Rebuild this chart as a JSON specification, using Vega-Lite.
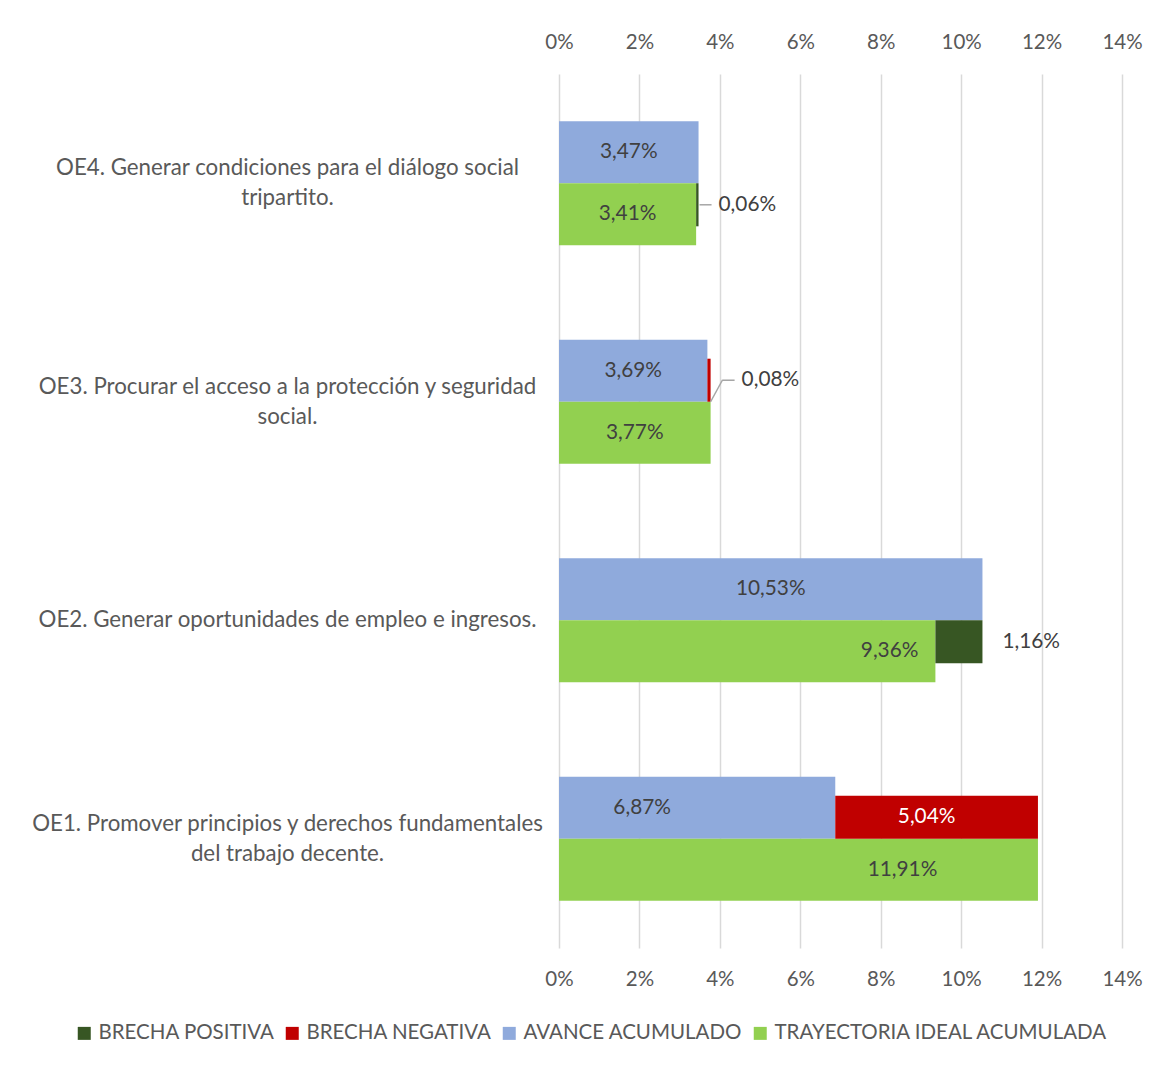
{
  "$schema": "https://vega.github.io/schema/vega-lite/v6.json",
  "width": 563,
  "height": 874,
  "autosize": {"type": "none"},
  "padding": {"left": 559, "top": 74, "right": 39, "bottom": 118},
  "background": "white",
  "config": {
    "font": "Lato",
    "view": {"stroke": null},
    "locale": {"number": {"decimal": ",", "thousands": ".", "grouping": [3], "currency": ["", " €"]}},
    "text": {"fontSize": 20.8, "color": "#404040", "font": "Lato"}
  },
  "data": {
    "values": [
      {"objetivo": "OE4. Generar condiciones para el diálogo social\ntripartito.", "serie": "AVANCE ACUMULADO", "valor": 0.0347},
      {"objetivo": "OE4. Generar condiciones para el diálogo social\ntripartito.", "serie": "TRAYECTORIA IDEAL ACUMULADA", "valor": 0.0341},
      {"objetivo": "OE4. Generar condiciones para el diálogo social\ntripartito.", "serie": "BRECHA POSITIVA", "desde": 0.0341, "hasta": 0.0347, "valor": 0.0006},
      {"objetivo": "OE3. Procurar el acceso a la protección y seguridad\nsocial.", "serie": "AVANCE ACUMULADO", "valor": 0.0369},
      {"objetivo": "OE3. Procurar el acceso a la protección y seguridad\nsocial.", "serie": "TRAYECTORIA IDEAL ACUMULADA", "valor": 0.0377},
      {"objetivo": "OE3. Procurar el acceso a la protección y seguridad\nsocial.", "serie": "BRECHA NEGATIVA", "desde": 0.0369, "hasta": 0.0377, "valor": 0.0008},
      {"objetivo": "OE2. Generar oportunidades de empleo e ingresos.", "serie": "AVANCE ACUMULADO", "valor": 0.1053},
      {"objetivo": "OE2. Generar oportunidades de empleo e ingresos.", "serie": "TRAYECTORIA IDEAL ACUMULADA", "valor": 0.0936},
      {"objetivo": "OE2. Generar oportunidades de empleo e ingresos.", "serie": "BRECHA POSITIVA", "desde": 0.0936, "hasta": 0.1053, "valor": 0.0116},
      {"objetivo": "OE1. Promover principios y derechos fundamentales\ndel trabajo decente.", "serie": "AVANCE ACUMULADO", "valor": 0.0687},
      {"objetivo": "OE1. Promover principios y derechos fundamentales\ndel trabajo decente.", "serie": "TRAYECTORIA IDEAL ACUMULADA", "valor": 0.1191},
      {"objetivo": "OE1. Promover principios y derechos fundamentales\ndel trabajo decente.", "serie": "BRECHA NEGATIVA", "desde": 0.0687, "hasta": 0.1191, "valor": 0.0504}
    ]
  },
  "encoding": {
    "y": {
      "field": "objetivo", "type": "nominal", "sort": "descending",
      "scale": {"paddingInner": 0.4325, "paddingOuter": 0.2163},
      "axis": {"title": null, "domain": false, "ticks": false, "tickSize": 0, "labelAlign": "center", "labelPadding": 272, "labelBaseline": "middle", "labelLineHeight": 30, "labelFontSize": 22.3, "labelColor": "#595959", "labelLimit": 700, "labelExpr": "split(datum.label, '\\n')",
        "labelOffset": {"condition": {"test": "indexof(datum.value, '\\n') >= 0", "value": -15}, "value": 0}}
    }
  },
  "layer": [
    {
      "transform": [{"filter": "datum.serie == 'AVANCE ACUMULADO' || datum.serie == 'TRAYECTORIA IDEAL ACUMULADA'"}],
      "mark": {"type": "bar"},
      "encoding": {
        "x": {"field": "valor", "type": "quantitative", "scale": {"domain": [0, 0.14], "nice": false, "zero": true},
          "axis": {"orient": "bottom", "title": null, "values": [0, 0.02, 0.04, 0.06, 0.08, 0.1, 0.12, 0.14], "format": ".0%", "grid": true, "gridColor": "#D9D9D9", "gridWidth": 1.5, "domain": false, "ticks": false, "labelFlush": false, "labelPadding": 21, "labelFontSize": 20.5, "labelColor": "#595959"}},
        "yOffset": {"field": "serie", "type": "nominal", "scale": {"domain": ["AVANCE ACUMULADO", "TRAYECTORIA IDEAL ACUMULADA"], "paddingInner": 0, "paddingOuter": 0}},
        "color": {"field": "serie", "type": "nominal",
          "scale": {"domain": ["BRECHA POSITIVA", "BRECHA NEGATIVA", "AVANCE ACUMULADO", "TRAYECTORIA IDEAL ACUMULADA"], "range": ["#375623", "#C00000", "#8FAADC", "#92D050"]},
          "legend": {"title": null, "orient": "none", "legendX": -485, "legendY": 949, "direction": "horizontal", "symbolType": "square", "symbolSize": 169, "symbolStrokeWidth": 0, "labelFontSize": 20.5, "labelColor": "#595959", "labelLimit": 700, "columnPadding": 7, "labelOffset": 4}}
      }
    },
    {
      "transform": [{"filter": "indexof(datum.serie, 'BRECHA') == 0"}],
      "mark": {"type": "bar"},
      "encoding": {
        "x": {"field": "desde", "type": "quantitative",
          "axis": {"orient": "top", "title": null, "values": [0, 0.02, 0.04, 0.06, 0.08, 0.1, 0.12, 0.14], "format": ".0%", "grid": false, "domain": false, "ticks": false, "labelFlush": false, "labelPadding": 22, "labelFontSize": 20.5, "labelColor": "#595959"}},
        "x2": {"field": "hasta"},
        "yOffset": {"field": "serie", "type": "nominal", "scale": {"domain": ["BRECHA NEGATIVA", "BRECHA POSITIVA"], "paddingInner": 0, "paddingOuter": 0.44}},
        "color": {"field": "serie", "type": "nominal"}
      }
    },
    {
      "transform": [
        {"filter": "(datum.serie == 'AVANCE ACUMULADO' || datum.serie == 'TRAYECTORIA IDEAL ACUMULADA') && indexof(datum.objetivo, 'OE1') != 0 && !(indexof(datum.objetivo, 'OE2') == 0 && datum.serie == 'TRAYECTORIA IDEAL ACUMULADA')"},
        {"calculate": "datum.valor / 2", "as": "medio"}
      ],
      "mark": {"type": "text", "align": "center", "baseline": "middle"},
      "encoding": {
        "x": {"field": "medio", "type": "quantitative", "axis": null},
        "yOffset": {"field": "serie", "type": "nominal", "scale": {"type": "point", "domain": ["AVANCE ACUMULADO", "TRAYECTORIA IDEAL ACUMULADA"], "padding": 0.5}},
        "text": {"field": "valor", "type": "quantitative", "format": ".2%"}
      }
    },
    {
      "transform": [{"filter": "indexof(datum.objetivo, 'OE2') == 0 && datum.serie == 'TRAYECTORIA IDEAL ACUMULADA'"}],
      "mark": {"type": "text", "align": "right", "baseline": "middle", "dx": -17},
      "encoding": {
        "x": {"field": "valor", "type": "quantitative", "axis": null},
        "yOffset": {"field": "serie", "type": "nominal", "scale": {"type": "point", "domain": ["AVANCE ACUMULADO", "TRAYECTORIA IDEAL ACUMULADA"], "padding": 0.5}},
        "text": {"field": "valor", "type": "quantitative", "format": ".2%"}
      }
    },
    {
      "transform": [{"filter": "indexof(datum.objetivo, 'OE1') == 0 && datum.serie == 'AVANCE ACUMULADO'"}, {"calculate": "datum.valor / 2", "as": "medio"}],
      "mark": {"type": "text", "align": "center", "baseline": "middle", "dx": -55},
      "encoding": {
        "x": {"field": "medio", "type": "quantitative", "axis": null},
        "yOffset": {"field": "serie", "type": "nominal", "scale": {"type": "point", "domain": ["AVANCE ACUMULADO", "TRAYECTORIA IDEAL ACUMULADA"], "padding": 0.5}},
        "text": {"field": "valor", "type": "quantitative", "format": ".2%"}
      }
    },
    {
      "transform": [{"filter": "indexof(datum.objetivo, 'OE1') == 0 && datum.serie == 'TRAYECTORIA IDEAL ACUMULADA'"}, {"calculate": "datum.valor / 2", "as": "medio"}],
      "mark": {"type": "text", "align": "center", "baseline": "middle", "dx": 104},
      "encoding": {
        "x": {"field": "medio", "type": "quantitative", "axis": null},
        "yOffset": {"field": "serie", "type": "nominal", "scale": {"type": "point", "domain": ["AVANCE ACUMULADO", "TRAYECTORIA IDEAL ACUMULADA"], "padding": 0.5}},
        "text": {"field": "valor", "type": "quantitative", "format": ".2%"}
      }
    },
    {
      "transform": [{"filter": "indexof(datum.objetivo, 'OE1') == 0 && datum.serie == 'BRECHA NEGATIVA'"}, {"calculate": "(datum.desde + datum.hasta) / 2", "as": "medio"}],
      "mark": {"type": "text", "align": "center", "baseline": "middle", "dx": -10, "color": "white"},
      "encoding": {
        "x": {"field": "medio", "type": "quantitative", "axis": null},
        "yOffset": {"field": "serie", "type": "nominal", "scale": {"type": "point", "domain": ["BRECHA NEGATIVA", "BRECHA POSITIVA"], "padding": 0.94}},
        "text": {"field": "valor", "type": "quantitative", "format": ".2%"}
      }
    },
    {
      "transform": [{"filter": "datum.serie == 'BRECHA POSITIVA'"}],
      "mark": {"type": "text", "align": "left", "baseline": "middle", "dx": 20},
      "encoding": {
        "x": {"field": "hasta", "type": "quantitative", "axis": null},
        "yOffset": {"field": "serie", "type": "nominal", "scale": {"type": "point", "domain": ["BRECHA NEGATIVA", "BRECHA POSITIVA"], "padding": 0.94}},
        "text": {"field": "valor", "type": "quantitative", "format": ".2%"}
      }
    },
    {
      "transform": [{"filter": "indexof(datum.objetivo, 'OE3') == 0 && datum.serie == 'BRECHA NEGATIVA'"}],
      "mark": {"type": "text", "align": "left", "baseline": "middle", "dx": 31},
      "encoding": {
        "x": {"field": "hasta", "type": "quantitative", "axis": null},
        "yOffset": {"field": "serie", "type": "nominal", "scale": {"type": "point", "domain": ["BRECHA NEGATIVA", "BRECHA POSITIVA"], "padding": 0.94}},
        "text": {"field": "valor", "type": "quantitative", "format": ".2%"}
      }
    },
    {
      "transform": [{"filter": "indexof(datum.objetivo, 'OE4') == 0 && datum.serie == 'BRECHA POSITIVA'"}],
      "mark": {"type": "rule", "color": "#A6A6A6", "strokeWidth": 1.5, "xOffset": 1, "x2Offset": 13},
      "encoding": {
        "x": {"field": "hasta", "type": "quantitative", "axis": null},
        "x2": {"field": "hasta"},
        "yOffset": {"field": "serie", "type": "nominal", "scale": {"type": "point", "domain": ["BRECHA NEGATIVA", "BRECHA POSITIVA"], "padding": 0.94}}
      }
    },
    {
      "transform": [{"filter": "indexof(datum.objetivo, 'OE3') == 0 && datum.serie == 'BRECHA NEGATIVA'"}],
      "mark": {"type": "rule", "color": "#A6A6A6", "strokeWidth": 1.5, "xOffset": 12, "x2Offset": 24},
      "encoding": {
        "x": {"field": "hasta", "type": "quantitative", "axis": null},
        "x2": {"field": "hasta"},
        "yOffset": {"field": "serie", "type": "nominal", "scale": {"type": "point", "domain": ["BRECHA NEGATIVA", "BRECHA POSITIVA"], "padding": 0.94}}
      }
    },
    {
      "transform": [{"filter": "indexof(datum.objetivo, 'OE3') == 0 && datum.serie == 'BRECHA NEGATIVA'"}],
      "mark": {"type": "rule", "color": "#A6A6A6", "strokeWidth": 1.5, "xOffset": 0, "x2Offset": 12, "y2Offset": -22},
      "encoding": {
        "x": {"field": "hasta", "type": "quantitative", "axis": null},
        "x2": {"field": "hasta"},
        "y2": {"field": "objetivo"}
      }
    }
  ],
  "resolve": {"scale": {"yOffset": "independent"}, "axis": {"x": "independent"}}
}
